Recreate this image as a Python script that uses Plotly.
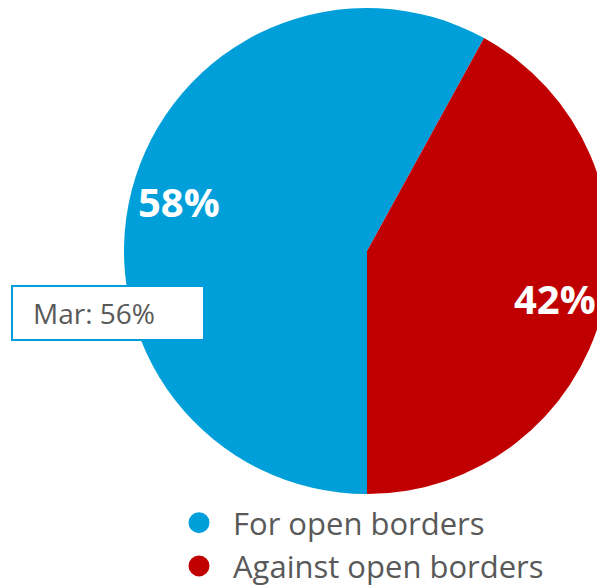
import math
import plotly.graph_objects as go

labels = ["For open borders", "Against open borders"]
values = [58, 42]
colors = ["#009FDA", "#C00000"]
march_note = "Mar: 56%"

W, H = 605, 586
cx, cy, r = 359, 242, 243  # pie centre / radius in px

fig = go.Figure()

fig.add_trace(go.Pie(
    labels=labels,
    values=values,
    sort=False,
    direction="clockwise",
    rotation=180,
    marker=dict(colors=colors, line=dict(width=0)),
    textinfo="none",
    domain=dict(x=[(cx - r) / W, (cx + r) / W], y=[1 - 2 * r / H, 1]),
    showlegend=False,
    hoverinfo="label+percent",
))

# percentage labels, placed at mid-angle of each slice
total = sum(values)
start = 180
for v in values:
    mid = math.radians(start + v / total * 360 / 2)
    start += v / total * 360
    fig.add_annotation(
        text=f"{round(v / total * 100)}%", xref="paper", yref="paper",
        x=(cx + 0.8 * r * math.sin(mid)) / W, y=1 - (cy - 0.8 * r * math.cos(mid)) / H,
        xanchor="center", yanchor="middle",
        showarrow=False, font=dict(family="Open Sans", size=40, color="white", weight="bold"),
    )

# legend with round markers
for name, c in zip(labels, colors):
    fig.add_trace(go.Scatter(
        x=[None], y=[None], mode="markers", name=name,
        marker=dict(symbol="circle", size=16, color=c, line=dict(color=c, width=5)),
    ))

fig.add_shape(type="rect", xref="paper", yref="paper",
              x0=4 / W, x1=196 / W, y0=1 - 332 / H, y1=1 - 278 / H,
              line=dict(color=colors[0], width=2), fillcolor="white", layer="above")
fig.add_annotation(text=march_note, xref="paper", yref="paper",
                   x=23 / W, y=1 - 305 / H, xanchor="left", yanchor="middle",
                   showarrow=False, font=dict(family="Open Sans", size=28, color="#595959"))

fig.update_layout(
    width=W, height=H,
    margin=dict(l=0, r=0, t=0, b=0),
    paper_bgcolor="white", plot_bgcolor="white",
    xaxis=dict(visible=False), yaxis=dict(visible=False),
    legend=dict(
        x=157 / W, y=1 / H, xanchor="left", yanchor="bottom",
        font=dict(family="Open Sans", size=31, color="#595959"),
        itemwidth=58, tracegroupgap=0, bgcolor="rgba(0,0,0,0)",
    ),
)

fig.write_html("out.html")
